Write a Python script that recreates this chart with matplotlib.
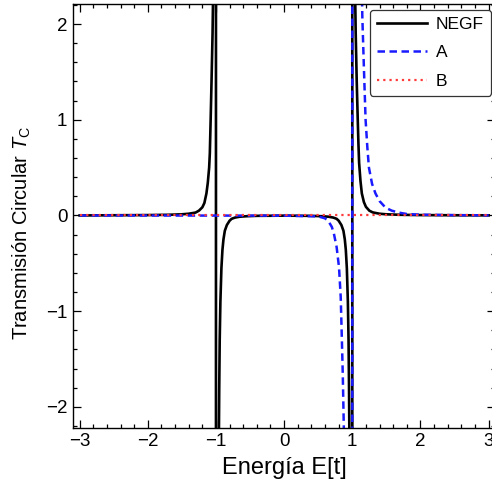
import matplotlib
matplotlib.use('Agg')
import matplotlib.pyplot as plt
from matplotlib.ticker import MultipleLocator

plt.rcParams['font.family'] = ['Liberation Sans', 'DejaVu Sans']
plt.rcParams['mathtext.fontset'] = 'custom'
plt.rcParams['mathtext.rm'] = 'Liberation Sans'
plt.rcParams['mathtext.it'] = 'Liberation Sans:italic'

# NEGF transmission, poles at E = -1 and E = +1
negf_e = [-3.0, -2.5, -2.0, -1.7, -1.5, -1.4, -1.3, -1.25, -1.2, -1.17, -1.14,
          -1.12, -1.10, -1.09, -1.078, -1.065, -1.05, -1.04,
          -1.0, -1.0,
          -0.958, -0.952, -0.945, -0.935, -0.92, -0.905, -0.89, -0.87, -0.84,
          -0.80, -0.77, -0.72, -0.65, -0.55, -0.4, 0.0,
          0.4, 0.55, 0.65, 0.72, 0.77, 0.80, 0.84, 0.87, 0.89, 0.905, 0.92,
          0.935, 0.945, 0.952, 0.958,
          1.0, 1.0,
          1.04, 1.05, 1.065, 1.08, 1.09, 1.10, 1.12, 1.14, 1.17, 1.2, 1.25,
          1.3, 1.4, 1.5, 1.7, 2.0, 2.5, 3.0]
negf_t = [0.0, 0.002, 0.004, 0.007, 0.012, 0.018, 0.03, 0.05, 0.085, 0.13, 0.23,
          0.34, 0.5, 0.65, 1.0, 1.4, 1.9, 2.4,
          1000.0, -1000.0,
          -2.4, -1.8, -1.3, -0.9, -0.55, -0.36, -0.25, -0.16, -0.1,
          -0.055, -0.035, -0.022, -0.013, -0.008, -0.004, -0.002,
          -0.004, -0.008, -0.013, -0.022, -0.035, -0.055, -0.1, -0.16, -0.25,
          -0.36, -0.55, -0.9, -1.3, -1.8, -2.4,
          -1000.0, 1000.0,
          2.4, 1.9, 1.4, 1.0, 0.75, 0.55, 0.36, 0.23, 0.14, 0.09, 0.05,
          0.032, 0.018, 0.012, 0.007, 0.004, 0.002, 0.001]

# model A, single pole at E = +1
a_e = [-3.0, 0.0, 0.5, 0.6, 0.65, 0.7, 0.73, 0.77, 0.805, 0.83, 0.845, 0.86,
       0.878,
       1.0, 1.0,
       1.14, 1.147, 1.17, 1.195, 1.22, 1.244, 1.29, 1.34, 1.4, 1.49, 1.58,
       1.68, 1.8, 2.0, 2.5, 3.0]
a_t = [0.0, -0.002, -0.01, -0.03, -0.06, -0.12, -0.19, -0.33, -0.54, -0.85,
       -1.24, -1.65, -2.3,
       -1000.0, 1000.0,
       2.4, 2.08, 1.55, 1.0, 0.72, 0.5, 0.33, 0.23, 0.15, 0.08, 0.05,
       0.03, 0.015, 0.008, 0.003, 0.001]

# model B
b_e = [-3.0, 3.0]
b_t = [0.0, 0.0]

fig = plt.figure(figsize=(4.92, 4.93), dpi=100)
ax = fig.add_axes([0.148, 0.132, 0.859, 0.860])

ax.plot(negf_e, negf_t, color='black', lw=1.9, label='NEGF')
ax.plot(a_e, a_t, color='#1a1aff', lw=1.8, dashes=(3.0, 1.8), label='A')
ax.plot(b_e, b_t, color='#ff3a3a', lw=1.6, dashes=(1, 1.8), label='B')

ax.set_xlim(-3.1, 3.1)
ax.set_ylim(-2.22, 2.21)
ax.xaxis.set_major_locator(MultipleLocator(1))
ax.xaxis.set_minor_locator(MultipleLocator(0.2))
ax.yaxis.set_major_locator(MultipleLocator(1))
ax.yaxis.set_minor_locator(MultipleLocator(0.2))
ax.tick_params(which='both', direction='in', top=True, right=True,
               labelsize=13.5, width=0.9)
ax.tick_params(which='major', length=6, pad=4)
ax.tick_params(which='minor', length=3)
for s in ax.spines.values():
    s.set_linewidth(1.0)

ax.set_xlabel('Energía E[t]', fontsize=17, labelpad=5)
fig.text(22 / 492, 1 - 233 / 493, r'Transmisión Circular $T_\mathrm{C}$',
         rotation=90, ha='center', va='center', fontsize=14.5)

leg = ax.legend(loc='upper right', bbox_to_anchor=(491 / 492, 1 - 9.5 / 493),
                bbox_transform=fig.transFigure, fontsize=12.5, handlelength=2.9,
                handletextpad=0.52, labelspacing=0.78, borderpad=0.4,
                borderaxespad=0, fancybox=True, framealpha=1)
leg.get_frame().set_edgecolor('#333333')
leg.get_frame().set_linewidth(0.9)

plt.savefig('out.png', dpi=100)
